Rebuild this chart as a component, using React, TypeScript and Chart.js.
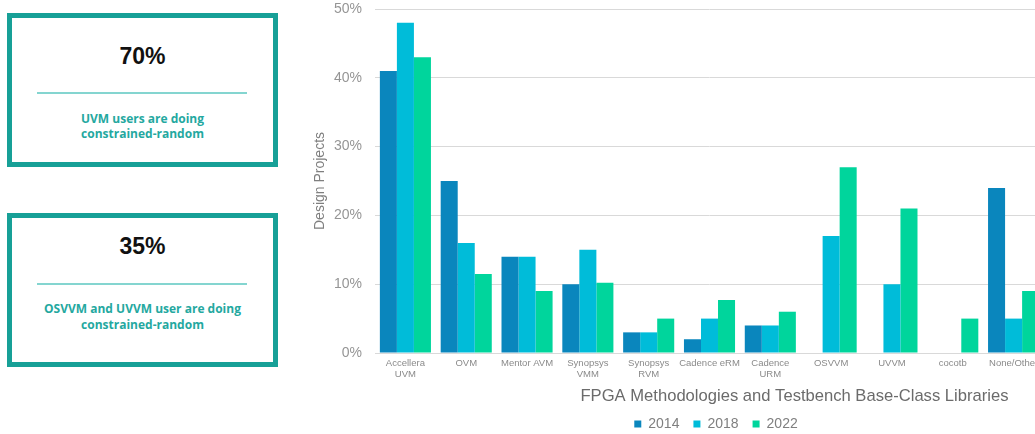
import React, { useEffect, useRef } from "react";
import { Chart, registerables } from "chart.js";

Chart.register(...registerables);

const categories: (string | string[])[] = [
  ["Accellera", "UVM"],
  "OVM",
  "Mentor AVM",
  ["Synopsys", "VMM"],
  ["Synopsys", "RVM"],
  "Cadence eRM",
  ["Cadence", "URM"],
  "OSVVM",
  "UVVM",
  "cocotb",
  "None/Other",
];
const seriesNames = ["2014", "2018", "2022"];
const values2014 = [41, 25, 14, 10, 3, 2, 4, 0, 0, 0, 24];
const values2018 = [48, 16, 14, 15, 3, 5, 4, 17, 10, 0, 5];
const values2022 = [43, 11.5, 9, 10.2, 5, 7.7, 6, 27, 21, 5, 9];
const seriesColors = ["#0a86bd", "#00bcd9", "#00d59c"];
const yMax = 50;
const yStep = 10;
const xTitle = "FPGA Methodologies and Testbench Base-Class Libraries";
const yTitle = "Design Projects";

const card1Big = "70%";
const card1Text = ["UVM users are doing", "constrained-random"];
const card2Big = "35%";
const card2Text = ["OSVVM and UVVM user are doing", "constrained-random"];

const FONT = "'Liberation Sans', Arial, Helvetica, sans-serif";

const xTitlePlugin = {
  id: "xTitleOffset",
  afterDraw(chart: any) {
    const { ctx, chartArea } = chart;
    ctx.save();
    ctx.font = `16.6px ${FONT}`;
    ctx.fillStyle = "#6b6b6b";
    ctx.textAlign = "center";
    ctx.textBaseline = "middle";
    const x = chartArea.left + (chartArea.right - chartArea.left) * 0.627;
    const y = chartArea.bottom + 43;
    ctx.fillText(xTitle, x, y);
    ctx.restore();
  },
};

function Card(props: {
  top: number;
  big: string;
  bigTop: number;
  lineTop: number;
  text: string[];
  textTop: number;
  textLH: number;
}) {
  return (
    <div
      style={{
        position: "absolute",
        left: 7,
        top: props.top,
        width: 271,
        height: 154,
        boxSizing: "border-box",
        border: "5px solid #17a097",
        background: "#fff",
      }}
    >
      <div
        style={{
          position: "absolute",
          left: 0,
          right: 0,
          top: props.bigTop,
          height: 28,
          lineHeight: "28px",
          textAlign: "center",
          fontFamily: FONT,
          fontWeight: 700,
          fontSize: 23,
          color: "#111",
        }}
      >
        {props.big}
      </div>
      <div
        style={{
          position: "absolute",
          left: 25,
          width: 210,
          top: props.lineTop,
          height: 2,
          background: "#84d5d0",
        }}
      />
      <div
        style={{
          position: "absolute",
          left: 0,
          right: 0,
          top: props.textTop,
          textAlign: "center",
          fontFamily: "'Open Sans', sans-serif",
          fontWeight: 700,
          fontSize: 12,
          lineHeight: `${props.textLH}px`,
          color: "#24a89f",
        }}
      >
        {props.text.map((t, i) => (
          <div key={i}>{t}</div>
        ))}
      </div>
    </div>
  );
}

export default function App() {
  const canvasRef = useRef<HTMLCanvasElement | null>(null);

  useEffect(() => {
    if (!canvasRef.current) return;
    const seriesValues = [values2014, values2018, values2022];
    const chart = new Chart(canvasRef.current, {
      type: "bar",
      data: {
        labels: categories as any,
        datasets: seriesNames.map((name, i) => ({
          label: name,
          data: seriesValues[i],
          backgroundColor: seriesColors[i],
          borderWidth: 0,
          categoryPercentage: 0.84,
          barPercentage: 1.0,
        })),
      },
      options: {
        animation: false,
        responsive: true,
        maintainAspectRatio: false,
        layout: { padding: { top: 9, right: 0, left: 0, bottom: 0 } },
        plugins: {
          tooltip: { enabled: false },
          title: { display: false },
          legend: {
            display: true,
            position: "bottom",
            labels: {
              boxWidth: 7,
              boxHeight: 7,
              padding: 14,
              color: "#7f7f7f",
              font: { family: FONT, size: 14 },
            },
          },
        },
        scales: {
          x: {
            grid: { display: false, drawTicks: false },
            border: { display: true, color: "#d9d9d9", width: 1 },
            ticks: {
              color: "#8a8a8a",
              font: { family: FONT, size: 9.5, lineHeight: 1.15 },
              padding: 5,
              maxRotation: 0,
              minRotation: 0,
              autoSkip: false,
            },
            afterFit: (scale: any) => {
              scale.height = 50;
              scale.paddingLeft = 0;
              scale.paddingRight = 0;
            },
          },
          y: {
            min: 0,
            max: yMax,
            grid: { color: "#d9d9d9", lineWidth: 1, drawTicks: false },
            border: { display: false },
            ticks: {
              stepSize: yStep,
              color: "#959595",
              font: { family: FONT, size: 14 },
              padding: 13,
              callback: (v: any) => `${v}%`,
            },
            title: {
              display: true,
              text: yTitle,
              color: "#7f7f7f",
              font: { family: FONT, size: 14 },
              padding: { top: 12, bottom: 0 },
            },
            afterFit: (scale: any) => {
              scale.width = 75;
              scale.paddingTop = 0;
              scale.paddingBottom = 0;
            },
          },
          ySpacer: {
            position: "right",
            display: true,
            grid: { display: false, drawTicks: false },
            border: { display: false },
            ticks: { display: false },
            afterFit: (scale: any) => {
              scale.width = 88;
              scale.paddingTop = 0;
              scale.paddingBottom = 0;
            },
          },
        },
      },
      plugins: [xTitlePlugin],
    } as any);
    return () => chart.destroy();
  }, []);

  return (
    <div
      style={{
        position: "fixed",
        left: 0,
        top: 0,
        width: 1035,
        height: 434,
        overflow: "hidden",
        background: "#fff",
      }}
    >
      <Card
        top={13}
        big={card1Big}
        bigTop={24}
        lineTop={74}
        text={card1Text}
        textTop={93}
        textLH={15}
      />
      <Card
        top={213}
        big={card2Big}
        bigTop={14}
        lineTop={65}
        text={card2Text}
        textTop={83}
        textLH={16}
      />
      <div style={{ position: "absolute", left: 300, top: 0, width: 832, height: 441 }}>
        <canvas ref={canvasRef} />
      </div>
    </div>
  );
}
